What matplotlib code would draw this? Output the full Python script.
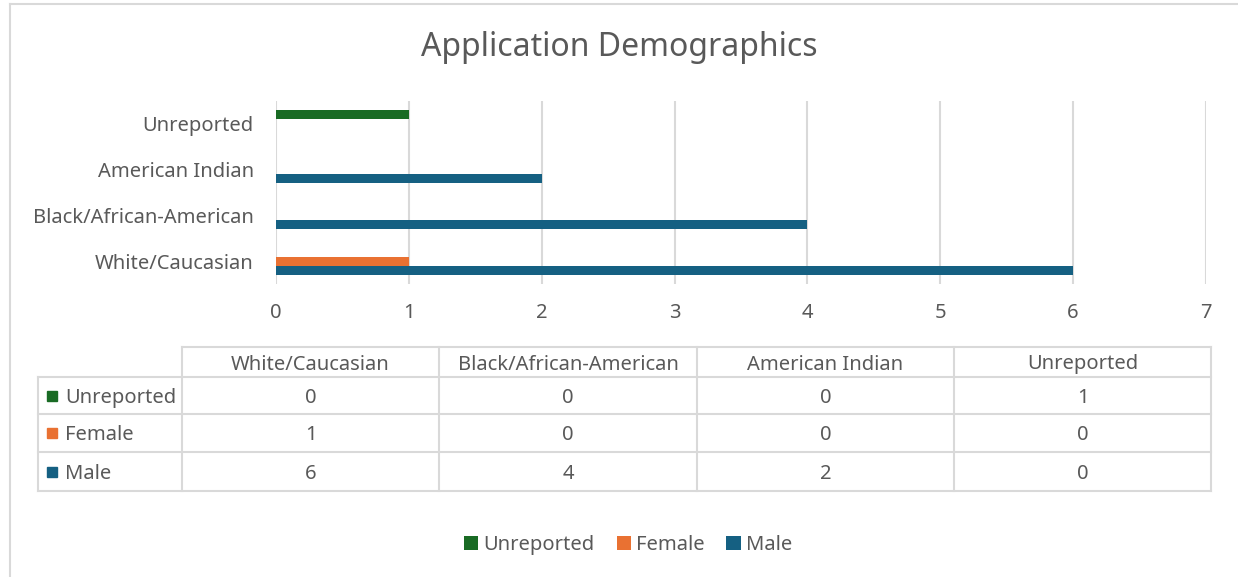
import matplotlib.pyplot as plt
import numpy as np
from matplotlib.patches import Rectangle

# Data
categories = ["White/Caucasian", "Black/African-American", "American Indian", "Unreported"]
series = ["Unreported", "Female", "Male"]
unreported = [0, 0, 0, 1]
female = [1, 0, 0, 0]
male = [6, 4, 2, 0]
colors = ["#196B24", "#E97132", "#156082"]

text_color = "#595959"
grid_color = "#d9d9d9"
font = "Noto Sans"
fs = 14.5

fig = plt.figure(figsize=(12.38, 5.77), dpi=100)
W, H = 1238, 577

def fx(px):
    return px / W

def fy(py):
    return 1 - py / H

# Bar chart
ax = fig.add_axes([fx(276), fy(284), fx(1206) - fx(276), fy(101) - fy(284)])
y = np.arange(len(categories))
h = 0.2
values = [unreported, female, male]
offsets = [h, 0, -h]
bars = []
for vals, off, col, name in zip(values, offsets, colors, series):
    b = ax.barh(y + off, vals, height=h, color=col, label=name, zorder=3)
    bars.append(b)

ax.set_xlim(0, 7)
ax.set_ylim(-0.5, 3.5)
ax.set_xticks(range(8))
ax.set_yticks(y)
ax.set_yticklabels(categories)
ax.grid(axis="x", color=grid_color, linewidth=1.5, zorder=0)
for s in ax.spines.values():
    s.set_visible(False)
ax.tick_params(length=0, labelcolor=text_color, labelsize=fs, pad=14)
ax.tick_params(axis="y", pad=16)
for lab in ax.get_xticklabels() + ax.get_yticklabels():
    lab.set_fontfamily(font)

fig.text(0.5, fy(48), "Application Demographics", ha="center", va="center",
         fontsize=23, color=text_color, family=font)

# Data table
tab = fig.add_axes([0, 0, 1, 1], facecolor="none")
tab.set_xlim(0, W)
tab.set_ylim(H, 0)
tab.axis("off")

col_x = [38, 182, 439, 697, 954, 1211]
row_y = [347, 377, 414, 452, 491]
lw = 1.5
# horizontal lines
tab.plot([col_x[1], col_x[-1]], [row_y[0], row_y[0]], color=grid_color, lw=lw)
for ry in row_y[1:]:
    tab.plot([col_x[0], col_x[-1]], [ry, ry], color=grid_color, lw=lw)
# vertical lines
tab.plot([col_x[0], col_x[0]], [row_y[1], row_y[-1]], color=grid_color, lw=lw)
for cx in col_x[1:]:
    tab.plot([cx, cx], [row_y[0], row_y[-1]], color=grid_color, lw=lw)

dy = 2.5
for i, cat in enumerate(categories):
    cx = (col_x[i + 1] + col_x[i + 2]) / 2
    tab.text(cx, (row_y[0] + row_y[1]) / 2 + dy, cat, ha="center", va="center",
             fontsize=fs, color=text_color, family=font)

for r, (name, vals, col) in enumerate(zip(series, values, colors)):
    cy = (row_y[r + 1] + row_y[r + 2]) / 2
    tab.add_patch(Rectangle((47, cy - 5), 10, 10, color=col))
    tab.text(65, cy + dy, name, ha="left", va="center", fontsize=fs,
             color=text_color, family=font)
    for i, v in enumerate(vals):
        cx = (col_x[i + 1] + col_x[i + 2]) / 2
        tab.text(cx, cy + dy, str(v), ha="center", va="center", fontsize=fs,
                 color=text_color, family=font)

# Legend
leg = fig.legend(handles=bars, labels=series, loc="center", bbox_to_anchor=(fx(628), fy(545)),
                 ncol=3, frameon=False, handlelength=0.7, handleheight=0.7,
                 handletextpad=0.25, columnspacing=1.1,
                 prop={"family": font, "size": fs})
for t in leg.get_texts():
    t.set_color(text_color)

# Chart border
tab.plot([10, W], [4, 4], color=grid_color, lw=1.5)
tab.plot([10, 10], [4, H], color=grid_color, lw=1.5)

fig.savefig("out.png", dpi=100)
